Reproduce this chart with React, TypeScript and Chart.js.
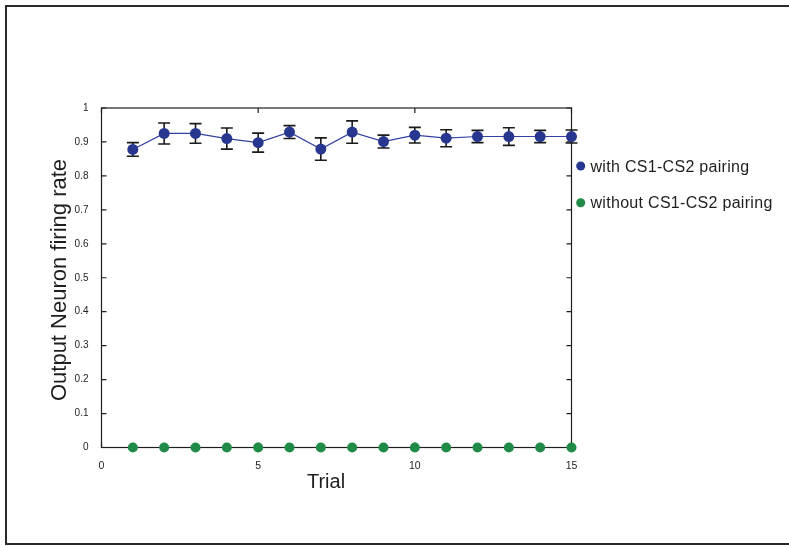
import { useEffect, useRef } from "react";
import { Chart, registerables } from "chart.js";

Chart.register(...registerables);

// Trial numbers and mean output-neuron firing rates
const trials = [1, 2, 3, 4, 5, 6, 7, 8, 9, 10, 11, 12, 13, 14, 15];
const withPairing = [0.878, 0.925, 0.925, 0.91, 0.898, 0.929, 0.879, 0.929, 0.901, 0.92, 0.911, 0.916, 0.916, 0.916, 0.916];
const withPairingErr = [0.02, 0.031, 0.029, 0.031, 0.028, 0.019, 0.033, 0.033, 0.019, 0.023, 0.025, 0.018, 0.026, 0.018, 0.019];
const withoutPairing = [0, 0, 0, 0, 0, 0, 0, 0, 0, 0, 0, 0, 0, 0, 0];

const xTicks = [0, 5, 10, 15];
const seriesLabels = ["with CS1-CS2 pairing", "without CS1-CS2 pairing"];
const xTitle = "Trial";
const yTitle = "Output Neuron firing rate";

const BLUE = "#27368f";
const GREEN = "#1f8b47";
const INK = "#1e1e1e";
const FONT = '"Liberation Sans", Arial, Helvetica, sans-serif';

const decorations = {
  id: "decorations",
  beforeDraw(chart: any) {
    const { ctx, width, height } = chart;
    ctx.save();
    ctx.fillStyle = "#ffffff";
    ctx.fillRect(0, 0, width, height);
    // outer frame (open on the right)
    ctx.fillStyle = "#2a2a2a";
    ctx.fillRect(5, 5, width - 5, 2);
    ctx.fillRect(5, 5, 2, 540);
    ctx.fillRect(5, 543, width - 5, 2);
    ctx.restore();
  },
  beforeDatasetsDraw(chart: any) {
    const { ctx, chartArea: a, scales } = chart;
    const xs = scales.x;
    const ys = scales.y;
    ctx.save();
    ctx.strokeStyle = INK;
    ctx.lineWidth = 1.2;
    ctx.strokeRect(a.left, a.top, a.right - a.left, a.bottom - a.top);
    // inward tick marks on all four sides
    const tl = 5;
    ctx.beginPath();
    for (const t of ys.ticks) {
      const y = ys.getPixelForValue(t.value);
      ctx.moveTo(a.left, y);
      ctx.lineTo(a.left + tl, y);
      ctx.moveTo(a.right, y);
      ctx.lineTo(a.right - tl, y);
    }
    for (const t of xs.ticks) {
      const x = xs.getPixelForValue(t.value);
      ctx.moveTo(x, a.bottom);
      ctx.lineTo(x, a.bottom - tl);
      ctx.moveTo(x, a.top);
      ctx.lineTo(x, a.top + tl);
    }
    ctx.stroke();

    // error bars for the paired series
    ctx.lineWidth = 1.6;
    ctx.strokeStyle = "#1a1a1a";
    const cap = 6;
    ctx.beginPath();
    trials.forEach((t, i) => {
      const x = xs.getPixelForValue(t);
      const yTop = ys.getPixelForValue(withPairing[i] + withPairingErr[i]);
      const yBot = ys.getPixelForValue(withPairing[i] - withPairingErr[i]);
      ctx.moveTo(x, yTop);
      ctx.lineTo(x, yBot);
      ctx.moveTo(x - cap, yTop);
      ctx.lineTo(x + cap, yTop);
      ctx.moveTo(x - cap, yBot);
      ctx.lineTo(x + cap, yBot);
    });
    ctx.stroke();
    ctx.restore();
  },
  afterDraw(chart: any) {
    const { ctx } = chart;
    ctx.save();
    ctx.fillStyle = INK;
    ctx.textAlign = "center";
    ctx.textBaseline = "middle";
    // axis titles
    ctx.font = `20px ${FONT}`;
    ctx.fillText(xTitle, 326, 482);
    ctx.translate(60, 280);
    ctx.rotate(-Math.PI / 2);
    ctx.font = `22px ${FONT}`;
    ctx.fillText(yTitle, 0, 0);
    ctx.restore();

    // legend
    ctx.save();
    const colors = [BLUE, GREEN];
    const rows = [166, 202.7];
    ctx.font = `16px ${FONT}`;
    (ctx as any).letterSpacing = "0.3px";
    ctx.textAlign = "left";
    ctx.textBaseline = "alphabetic";
    seriesLabels.forEach((label, i) => {
      ctx.fillStyle = colors[i];
      ctx.beginPath();
      ctx.arc(580.7, rows[i], 4.5, 0, Math.PI * 2);
      ctx.fill();
      ctx.fillStyle = INK;
      ctx.fillText(label, 590.5, rows[i] + 5.5);
    });
    ctx.restore();
  },
};

export default function App() {
  const ref = useRef<HTMLCanvasElement | null>(null);

  useEffect(() => {
    if (!ref.current) return;
    const chart = new Chart(ref.current, {
      type: "line",
      data: {
        datasets: [
          {
            label: seriesLabels[0],
            data: trials.map((t, i) => ({ x: t, y: withPairing[i] })),
            borderColor: "#3441a0",
            borderWidth: 1.2,
            backgroundColor: BLUE,
            pointBackgroundColor: BLUE,
            pointBorderWidth: 0,
            pointRadius: 5.5,
            showLine: true,
            clip: false as any,
          },
          {
            label: seriesLabels[1],
            data: trials.map((t, i) => ({ x: t, y: withoutPairing[i] })),
            borderColor: GREEN,
            backgroundColor: GREEN,
            pointBackgroundColor: GREEN,
            pointBorderWidth: 0,
            pointRadius: 5,
            showLine: false,
            clip: false as any,
          },
        ],
      },
      plugins: [decorations],
      options: {
        responsive: false,
        animation: false,
        events: [],
        layout: { padding: { left: 71.5, right: 217.5, top: 108, bottom: 68.5 } },
        plugins: {
          legend: { display: false },
          tooltip: { enabled: false },
        },
        scales: {
          x: {
            type: "linear",
            min: 0,
            max: 15,
            grid: { display: false },
            border: { display: false },
            afterBuildTicks: (scale: any) => {
              scale.ticks = xTicks.map((v) => ({ value: v }));
            },
            afterFit: (scale: any) => {
              scale.height = 30;
            },
            ticks: {
              padding: 4,
              color: INK,
              maxRotation: 0,
              font: { family: FONT, size: 10.5 },
            },
          },
          y: {
            type: "linear",
            min: 0,
            max: 1,
            grid: { display: false },
            border: { display: false },
            afterFit: (scale: any) => {
              scale.width = 30;
            },
            ticks: {
              stepSize: 0.1,
              padding: 5,
              color: INK,
              font: { family: FONT, size: 10 },
              callback: (v: any) => String(Number(Number(v).toFixed(1))),
            },
          },
        },
      },
    });
    return () => chart.destroy();
  }, []);

  return (
    <div style={{ position: "absolute", left: 0, top: 0, width: 789, height: 546 }}>
      <canvas ref={ref} width={789} height={546} />
    </div>
  );
}
